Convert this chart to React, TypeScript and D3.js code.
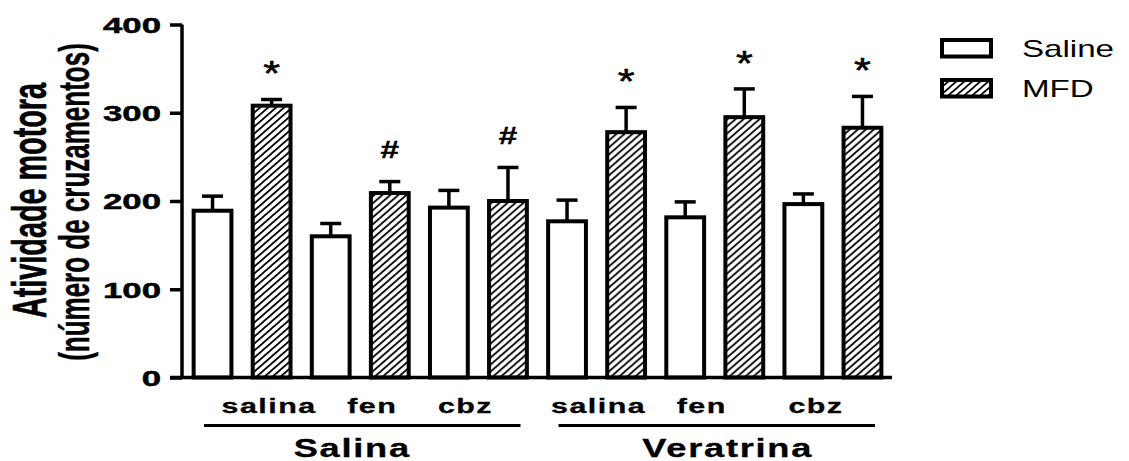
import React, { useEffect, useRef } from 'react';
import * as d3 from 'd3';

// data
const groups = ['Salina', 'Veratrina'];
const drugs = ['salina', 'fen', 'cbz'];
const series = ['Saline', 'MFD'];
const salineMean = [189, 160, 192.5, 177, 181.5, 196.5];
const salineSem = [16.5, 14.5, 19.5, 24, 17.5, 11.5];
const mfdMean = [308, 209, 200, 278, 295, 283];
const mfdSem = [7, 13, 38, 28, 32, 35.5];
const mfdMarks = ['*', '#', '#', '*', '*', '*'];
const yTicks = [0, 100, 200, 300, 400];

// label nudges as in the original figure (px)
const labelNudge = [27, 12, -13, 2, -13, -17];
const groupNudge = [-8, 13];

const W = 1129;
const H = 461;
const SX = 1.45; // the figure is stretched horizontally
const FONT = '"Liberation Sans", Arial, sans-serif';

const drawChart = (svgEl: SVGSVGElement) => {
    const svg = d3.select(svgEl);
    svg.selectAll('*').remove();

    const conds = groups.flatMap(g => drugs.map(d => ({ group: g, drug: d, key: `${g}-${d}` })));
    const rows = conds.map((c, i) => ({
        ...c,
        vals: [
            { s: 'Saline', v: salineMean[i], e: salineSem[i], mark: '' },
            { s: 'MFD', v: mfdMean[i], e: mfdSem[i], mark: mfdMarks[i] },
        ],
    }));

    const x0 = d3.scaleBand().domain(conds.map(c => c.key)).range([183, 892]).padding(0);
    const x1 = d3.scaleBand().domain(series).range([0, x0.bandwidth()]).paddingInner(0.36).paddingOuter(0.18);
    const y = d3.scaleLinear().domain([0, 400]).range([377.5, 24.5]);

    const defs = svg.append('defs');
    const pat = defs.append('pattern')
        .attr('id', 'hatch')
        .attr('patternUnits', 'userSpaceOnUse')
        .attr('width', 8)
        .attr('height', 7);
    pat.append('rect').attr('width', 8).attr('height', 7).attr('fill', '#fff');
    pat.append('path')
        .attr('d', 'M0,7 L8,0 M-2,1.75 L2,-1.75 M6,8.75 L10,5.25')
        .attr('stroke', '#000')
        .attr('stroke-width', 1.7);

    // bars
    const cond = svg.append('g').selectAll('g')
        .data(rows)
        .enter().append('g')
        .attr('transform', d => `translate(${x0(d.key)},0)`);

    const bar = cond.selectAll('g')
        .data(d => d.vals)
        .enter().append('g');

    bar.append('line')
        .attr('x1', d => x1(d.s)! + x1.bandwidth() / 2)
        .attr('x2', d => x1(d.s)! + x1.bandwidth() / 2)
        .attr('y1', d => y(d.v))
        .attr('y2', d => y(d.v + d.e))
        .attr('stroke', '#000')
        .attr('stroke-width', 3.5);
    bar.append('line')
        .attr('x1', d => x1(d.s)! + x1.bandwidth() / 2 - 10.5)
        .attr('x2', d => x1(d.s)! + x1.bandwidth() / 2 + 10.5)
        .attr('y1', d => y(d.v + d.e))
        .attr('y2', d => y(d.v + d.e))
        .attr('stroke', '#000')
        .attr('stroke-width', 3.5);

    bar.append('rect')
        .attr('x', d => x1(d.s)!)
        .attr('width', x1.bandwidth())
        .attr('y', d => y(d.v))
        .attr('height', d => y(0) - y(d.v))
        .attr('fill', d => d.s === 'MFD' ? 'url(#hatch)' : '#fff')
        .attr('stroke', '#000')
        .attr('stroke-width', 4);

    bar.filter(d => d.mark !== '')
        .append('text')
        .attr('transform', d => {
            const cx = x1(d.s)! + x1.bandwidth() / 2;
            const top = y(d.v + d.e);
            const base = d.mark === '*' ? top - 35 + 0.575 * 36 : top - 32 + 0.36 * 23;
            const sx = d.mark === '*' ? 1.2 : SX;
            return `translate(${cx},${base}) scale(${sx},1)`;
        })
        .attr('text-anchor', 'middle')
        .attr('stroke', '#000')
        .attr('stroke-width', d => d.mark === '*' ? 0.6 : 0.3)
        .style('font-family', FONT)
        .style('font-weight', d => d.mark === '*' ? 'normal' : 'bold')
        .style('font-size', d => d.mark === '*' ? '36px' : '23px')
        .text(d => d.mark);

    // y axis
    const yAxis = svg.append('g')
        .attr('transform', 'translate(182,0)')
        .call(d3.axisLeft(y).tickValues(yTicks).tickSize(12).tickSizeOuter(0));
    yAxis.select('.domain').attr('stroke-width', 3.5).attr('d', `M0,${y(400)}V${y(0) + 1.5}`);
    yAxis.selectAll('.tick line').attr('stroke-width', 3.5);
    yAxis.selectAll('.tick text')
        .attr('x', null)
        .attr('dy', null)
        .attr('fill', '#000')
        .attr('stroke', '#000')
        .attr('stroke-width', 0.5)
        .attr('transform', 'translate(-21,7.9) scale(1.58,1)')
        .attr('text-anchor', 'end')
        .style('font-family', FONT)
        .style('font-weight', 'bold')
        .style('font-size', '22px');

    // x axis baseline
    svg.append('line')
        .attr('x1', 170).attr('x2', 892)
        .attr('y1', y(0)).attr('y2', y(0))
        .attr('stroke', '#000')
        .attr('stroke-width', 3.5);

    // drug labels
    svg.append('g').selectAll('text')
        .data(conds)
        .enter().append('text')
        .attr('transform', (d, i) => `translate(${x0(d.key)! + x0.bandwidth() / 2 + labelNudge[i]},412.5) scale(${SX},1)`)
        .attr('text-anchor', 'middle')
        .attr('stroke', '#000')
        .attr('stroke-width', 0.3)
        .style('font-family', FONT)
        .style('font-weight', 'bold')
        .style('font-size', '21px')
        .style('letter-spacing', '1px')
        .text(d => d.drug);

    // group lines and labels
    groups.forEach((g, i) => {
        const first = x0(`${g}-${drugs[0]}`)!;
        const last = x0(`${g}-${drugs[drugs.length - 1]}`)! + x0.bandwidth();
        svg.append('line')
            .attr('x1', first + 21).attr('x2', last - 17)
            .attr('y1', 425.5).attr('y2', 425.5)
            .attr('stroke', '#000')
            .attr('stroke-width', 3);
        svg.append('text')
            .attr('transform', `translate(${(first + last) / 2 + groupNudge[i]},456.5) scale(${SX},1)`)
            .attr('text-anchor', 'middle')
            .attr('stroke', '#000')
            .attr('stroke-width', 0.3)
            .style('font-family', FONT)
            .style('font-weight', 'bold')
            .style('font-size', '25px')
            .style('letter-spacing', '1.2px')
            .text(g);
    });

    // y title
    svg.append('text')
        .attr('transform', `translate(46,200.5) scale(1.65,1) rotate(-90)`)
        .attr('text-anchor', 'middle')
        .attr('stroke', '#000')
        .attr('stroke-width', 0.4)
        .style('font-family', FONT)
        .style('font-weight', 'bold')
        .style('font-size', '28.8px')
        .text('Atividade motora');
    svg.append('text')
        .attr('transform', `translate(88.5,202) scale(1.6,1) rotate(-90)`)
        .attr('text-anchor', 'middle')
        .attr('stroke', '#000')
        .attr('stroke-width', 0.3)
        .style('font-family', FONT)
        .style('font-weight', 'bold')
        .style('font-size', '26px')
        .text('(número de cruzamentos)');

    // legend
    const legend = svg.append('g').selectAll('g')
        .data(series)
        .enter().append('g')
        .attr('transform', (d, i) => `translate(942,${40 + i * 40})`);
    legend.append('rect')
        .attr('width', 49)
        .attr('height', 16.5)
        .attr('fill', d => d === 'MFD' ? 'url(#hatch)' : '#fff')
        .attr('stroke', '#000')
        .attr('stroke-width', 4);
    legend.append('text')
        .attr('transform', `translate(80,17) scale(1.38,1)`)
        .style('font-family', FONT)
        .style('font-size', '24px')
        .text(d => d);
};

const App = () => {
    const ref = useRef<SVGSVGElement>(null);

    useEffect(() => {
        if (ref.current) {
            drawChart(ref.current);
        }
    }, []);

    return (
        <svg
            ref={ref}
            width={W}
            height={H}
            style={{ position: 'absolute', left: 0, top: 0, background: '#fff' }}
        />
    );
};

export default App;
